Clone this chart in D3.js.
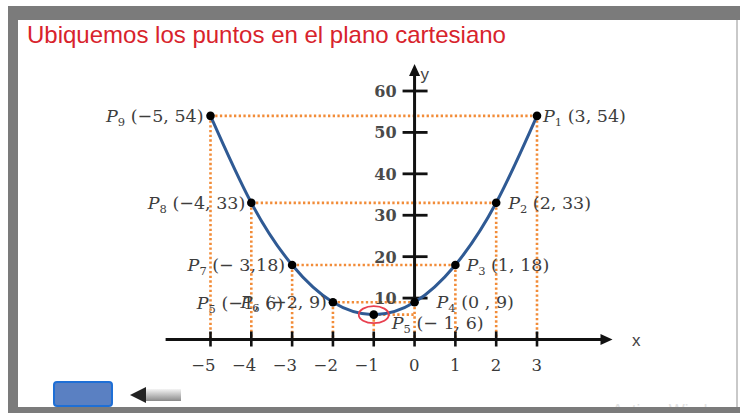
<!DOCTYPE html>
<html><head><meta charset="utf-8">
<script src="https://cdn.jsdelivr.net/npm/d3@7"></script>
<style>html,body{margin:0;padding:0;background:#fff;}svg{display:block;}</style>
</head><body>
<svg id="c" width="740" height="413"></svg>
<script>
// ---- data ----
const title = "Ubiquemos los puntos en el plano cartesiano";
const pointX = [3, 2, 1, 0, -1, -2, -3, -4, -5];
const pointY = [54, 33, 18, 9, 6, 9, 18, 33, 54];
const pointSub = ["1", "2", "3", "4", "5", "6", "7", "8", "9"];
const pointCoord = ["(3, 54)", "(2, 33)", "(1, 18)", "(0 ,  9)", "(− 1, 6)", "(−2, 9)", "(− 3,18)", "(−4, 33)", "(−5, 54)"];
const xTicks = [-5, -4, -3, -2, -1, 0, 1, 2, 3];
const xTickLabels = ["−5", "−4", "−3", "−2", "−1", "0", "1", "2", "3"];
const yTicks = [10, 20, 30, 40, 50, 60];
const yTickLabels = ["10", "20", "30", "40", "50", "60"];
// extra overlapped label for P5 drawn near P6 in the original
const extraSub = "5";
const extraCoord = "(−1, 6)";

// ---- layout ----
const svg = d3.select("#c");
const x = d3.scaleLinear().domain([-5, 3]).range([210.5, 537]);
const y = d3.scaleLinear().domain([0, 60]).range([339.5, 91]);
const serif = "'DejaVu Serif', 'Liberation Serif', serif";
const sans = "'Liberation Sans', Arial, sans-serif";
const orange = "#f28c38";

// watermark (behind frame)
svg.append("text").attr("x", 612).attr("y", 416).attr("font-family", sans).attr("font-size", 17)
  .attr("fill", "#e2e2e2").text("Activar Windows");

// frame
svg.append("rect").attr("x", 8).attr("y", 6).attr("width", 732).attr("height", 14).attr("fill", "#7b7b7b");
svg.append("rect").attr("x", 8).attr("y", 6).attr("width", 10).attr("height", 407).attr("fill", "#7b7b7b");
svg.append("rect").attr("x", 8).attr("y", 407).attr("width", 732).attr("height", 6).attr("fill", "#7b7b7b");
svg.append("rect").attr("x", 736).attr("y", 20).attr("width", 2).attr("height", 387).attr("fill", "#c9c9c9");

// title
svg.append("text").attr("x", 27).attr("y", 43).attr("font-family", sans).attr("font-size", 24)
  .attr("fill", "#d8232c").text(title);

const pts = pointX.map((v, i) => ({x: v, y: pointY[i], sub: pointSub[i], coord: pointCoord[i]}));

// dotted guides
const g = svg.append("g").attr("stroke", orange).attr("stroke-width", 2.6).attr("stroke-dasharray", "2.3,2.4").attr("fill", "none");
pts.forEach(p => {
  g.append("line").attr("x1", x(p.x)).attr("y1", y(p.y)).attr("x2", x(0)).attr("y2", y(p.y));
  g.append("line").attr("x1", x(p.x)).attr("y1", y(p.y)).attr("x2", x(p.x)).attr("y2", y(0));
});

// x axis
const ax = svg.append("g");
ax.append("line").attr("x1", x(-6.1)).attr("x2", x(4.6)).attr("y1", y(0)).attr("y2", y(0))
  .attr("stroke", "#111").attr("stroke-width", 3);
ax.append("path").attr("d", `M${x(4.85)},${y(0)} L${x(4.85) - 12},${y(0) - 5.5} L${x(4.85) - 12},${y(0) + 5.5} Z`).attr("fill", "#111");
xTicks.forEach((t, i) => {
  ax.append("line").attr("x1", x(t)).attr("x2", x(t)).attr("y1", y(0) - 8).attr("y2", y(0) + 7)
    .attr("stroke", "#111").attr("stroke-width", 2.6);
  ax.append("text").attr("x", x(t) + 5).attr("y", 371).attr("text-anchor", "end")
    .attr("font-family", serif).attr("font-size", 16.5).attr("fill", "#3a3a3a").text(xTickLabels[i]);
});
ax.append("text").attr("x", 632).attr("y", 346).attr("font-family", sans).attr("font-size", 17)
  .attr("fill", "#444").text("x");

// y axis
ax.append("line").attr("x1", x(0)).attr("x2", x(0)).attr("y1", y(64.5)).attr("y2", y(9))
  .attr("stroke", "#111").attr("stroke-width", 3);
ax.append("path").attr("d", `M${x(0)},${y(66.5)} L${x(0) - 5.5},${y(66.5) + 12} L${x(0) + 5.5},${y(66.5) + 12} Z`).attr("fill", "#111");
yTicks.forEach((t, i) => {
  ax.append("line").attr("x1", x(0) - 12).attr("x2", x(0) + 13).attr("y1", y(t)).attr("y2", y(t))
    .attr("stroke", "#111").attr("stroke-width", 2.8);
  ax.append("text").attr("x", x(0) - 18).attr("y", y(t) + 6).attr("text-anchor", "end")
    .attr("font-family", serif).attr("font-size", 16).attr("font-weight", "bold").attr("fill", "#4a4a4a").text(yTickLabels[i]);
});
ax.append("text").attr("x", x(0) + 6).attr("y", 80).attr("font-family", sans).attr("font-size", 17)
  .attr("fill", "#444").text("y");

// curve
const sorted = pts.slice().sort((a, b) => a.x - b.x);
svg.append("path").datum(sorted)
  .attr("d", d3.line().x(d => x(d.x)).y(d => y(d.y)).curve(d3.curveNatural))
  .attr("fill", "none").attr("stroke", "#2f5a94").attr("stroke-width", 3);

// highlight ellipse around P5
const p5 = pts[4];
svg.append("ellipse").attr("cx", x(p5.x)).attr("cy", y(p5.y)).attr("rx", 15).attr("ry", 8.5)
  .attr("fill", "none").attr("stroke", "#e8404f").attr("stroke-width", 1.8);

// points
svg.append("g").selectAll("circle").data(pts).join("circle")
  .attr("cx", d => x(d.x)).attr("cy", d => y(d.y)).attr("r", 4.3).attr("fill", "#000");

// labels
const labelLayout = [
  {dx: 6, dy: 6, anchor: "start"},
  {dx: 12, dy: 6, anchor: "start"},
  {dx: 11, dy: 6, anchor: "start"},
  {dx: 22, dy: 6, anchor: "start"},
  {dx: 18, dy: 14, anchor: "start"},
  {dx: -6, dy: 6, anchor: "end"},
  {dx: -7, dy: 6, anchor: "end"},
  {dx: -6, dy: 6, anchor: "end"},
  {dx: -7, dy: 6, anchor: "end"}
];
function label(px, py, sub, coord, lay) {
  const t = svg.append("text").attr("x", px + lay.dx).attr("y", py + lay.dy)
    .attr("text-anchor", lay.anchor).attr("font-family", serif).attr("font-size", 17.5).attr("fill", "#3d3d3d");
  t.append("tspan").attr("font-style", "italic").text("P");
  t.append("tspan").attr("font-size", 11.5).attr("dy", 4).text(sub);
  t.append("tspan").attr("dy", -4).text(" " + coord);
}
pts.forEach((p, i) => label(x(p.x), y(p.y), p.sub, p.coord, labelLayout[i]));
label(x(p5.x), y(p5.y), extraSub, extraCoord, {dx: -177, dy: -6, anchor: "start"});

// bottom controls
svg.append("rect").attr("x", 54).attr("y", 382).attr("width", 58).attr("height", 24).attr("rx", 3)
  .attr("fill", "#5a80c2").attr("stroke", "#1e6fd6").attr("stroke-width", 2);
const defs = svg.append("defs");
const lg = defs.append("linearGradient").attr("id", "ag").attr("x1", 0).attr("y1", 0).attr("x2", 0).attr("y2", 1);
lg.append("stop").attr("offset", "0").attr("stop-color", "#f4f4f4");
lg.append("stop").attr("offset", "1").attr("stop-color", "#8a8a8a");
svg.append("rect").attr("x", 143).attr("y", 389).attr("width", 38).attr("height", 12).attr("fill", "url(#ag)");
svg.append("path").attr("d", "M130,395 L146,387 L146,403 Z").attr("fill", "#222");
</script>
</body></html>
